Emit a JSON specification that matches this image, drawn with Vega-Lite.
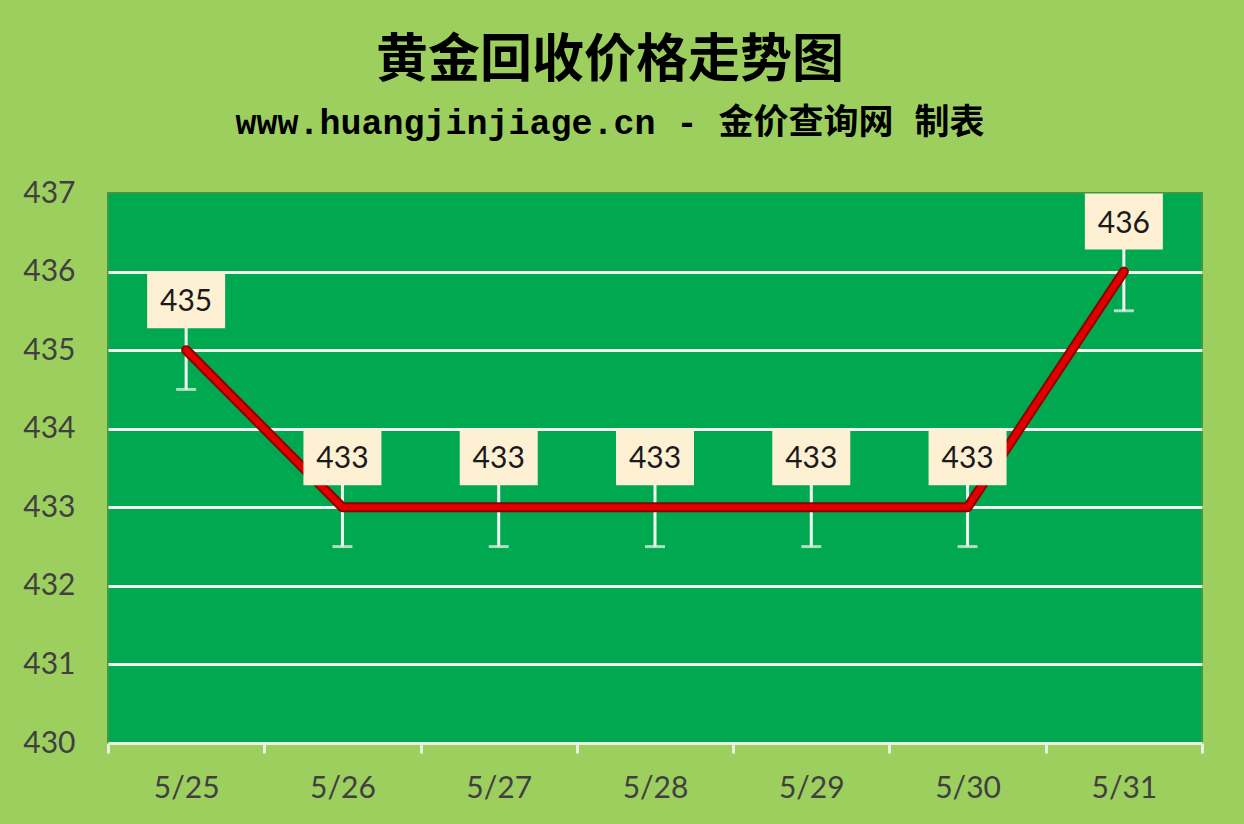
{
  "$schema": "https://vega.github.io/schema/vega-lite/v6.json",
  "width": 1094,
  "height": 550,
  "autosize": "none",
  "padding": {"left": 108, "top": 193, "right": 42, "bottom": 81},
  "background": "#9DCF5F",
  "title": {
    "text": "黄金回收价格走势图",
    "subtitle": "www.huangjinjiage.cn - 金价查询网 制表",
    "anchor": "middle",
    "dx": -45,
    "offset": 36,
    "font": "Noto Sans CJK SC",
    "fontSize": 52,
    "fontWeight": "bold",
    "color": "#000000",
    "subtitleFont": "Liberation Mono, Noto Sans CJK SC",
    "subtitleFontSize": 35,
    "subtitleFontWeight": "bold",
    "subtitleColor": "#000000",
    "subtitlePadding": 18
  },
  "data": {
    "values": [
      {"date": "5/25", "price": 435, "low": 434.5, "high": 435.5},
      {"date": "5/26", "price": 433, "low": 432.5, "high": 433.5},
      {"date": "5/27", "price": 433, "low": 432.5, "high": 433.5},
      {"date": "5/28", "price": 433, "low": 432.5, "high": 433.5},
      {"date": "5/29", "price": 433, "low": 432.5, "high": 433.5},
      {"date": "5/30", "price": 433, "low": 432.5, "high": 433.5},
      {"date": "5/31", "price": 436, "low": 435.5, "high": 436.5}
    ]
  },
  "encoding": {
    "x": {
      "field": "date",
      "type": "nominal",
      "sort": null,
      "title": null,
      "scale": {"type": "band", "paddingInner": 0, "paddingOuter": 0},
      "axis": {
        "tickBand": "extent",
        "labelAngle": 0,
        "labelFont": "Lato",
        "labelFontSize": 30,
        "labelColor": "#404040",
        "labelPadding": 20,
        "domainColor": "#E8F0E0",
        "domainWidth": 3,
        "tickColor": "#E8F0E0",
        "tickWidth": 3,
        "tickSize": 10,
        "grid": false
      }
    }
  },
  "layer": [
    {
      "mark": {"type": "rule", "color": "#F2F7F0", "strokeWidth": 3},
      "encoding": {
        "y": {
          "field": "low",
          "type": "quantitative",
          "title": null,
          "scale": {"domain": [430, 437], "nice": false, "zero": false},
          "axis": {
            "values": [430, 431, 432, 433, 434, 435, 436, 437],
            "format": "d",
            "labelFont": "Lato",
            "labelFontSize": 30,
            "labelColor": "#404040",
            "labelPadding": 33,
            "ticks": false,
            "domain": false,
            "grid": true,
            "gridColor": {
              "condition": {"test": "datum.value == 437 || datum.value == 430", "value": "transparent"},
              "value": "#F2F7F0"
            },
            "gridWidth": 3
          }
        },
        "y2": {"field": "high"}
      }
    },
    {
      "mark": {"type": "tick", "orient": "horizontal", "color": "#F2F7F0", "size": 20, "thickness": 3},
      "encoding": {"y": {"field": "low", "type": "quantitative"}}
    },
    {
      "mark": {"type": "line", "color": "#8E0000", "strokeWidth": 10, "strokeJoin": "round", "strokeCap": "round"},
      "encoding": {"y": {"field": "price", "type": "quantitative"}}
    },
    {
      "mark": {"type": "line", "color": "#E00000", "strokeWidth": 6, "strokeJoin": "round", "strokeCap": "round"},
      "encoding": {"y": {"field": "price", "type": "quantitative"}}
    },
    {
      "mark": {"type": "bar", "color": "#FDF0D3", "width": 78, "yOffset": -22, "y2Offset": -78},
      "encoding": {
        "y": {"field": "price", "type": "quantitative"},
        "y2": {"field": "price"}
      }
    },
    {
      "mark": {"type": "text", "font": "Lato", "fontSize": 30, "color": "#1A1A1A", "dy": -48, "baseline": "middle"},
      "encoding": {
        "y": {"field": "price", "type": "quantitative"},
        "text": {"field": "price", "type": "quantitative"}
      }
    }
  ],
  "config": {
    "view": {"fill": "#00A84F", "stroke": "#3C9A42", "strokeWidth": 2}
  }
}
